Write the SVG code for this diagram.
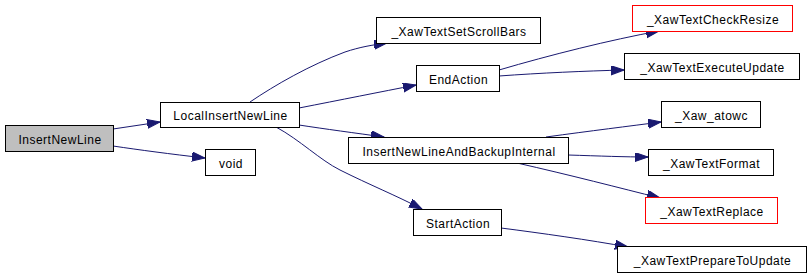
<svg xmlns="http://www.w3.org/2000/svg" width="810" height="274" viewBox="0 0 810 274">
<defs>
<style>
.n rect{fill:#fff;stroke:#000;stroke-width:1}
.n.root rect{fill:#bfbfbf}
.n.red rect{stroke:#ff0000}
.n text{font-family:"Liberation Sans",Arial,sans-serif;font-size:12px;letter-spacing:0.5px;fill:#000;text-anchor:middle}
.e path{fill:none;stroke:#191970;stroke-width:1;marker-end:url(#ah)}
</style>
<marker id="ah" markerUnits="userSpaceOnUse" markerWidth="14" markerHeight="10" refX="13" refY="4.5" orient="auto">
<path d="M0,0 L13,4.5 L0,9 z" fill="#191970" stroke="#191970" stroke-width="1"/>
</marker>
</defs>
<rect width="810" height="274" fill="#fff"/>
<g id="edges" class="e">
<path d="M113,129 L160,122"/>
<path d="M113,146 C140,150 170,154 205,158"/>
<path d="M250,102 C275,85 310,65 345,52 C360,47 372,45 387,43"/>
<path d="M299,108 C340,100 380,92 416,85"/>
<path d="M299,125 C325,129 355,133 384,137"/>
<path d="M276,127 C300,140 320,160 340,170 C370,185 395,195 422,209"/>
<path d="M499,70 C550,55 610,40 659,31"/>
<path d="M499,76 C540,73 585,71 624,70"/>
<path d="M546,137 C590,131 630,126 661,122"/>
<path d="M568,155 C600,156 625,157 648,157"/>
<path d="M517,163 C570,175 620,188 660,198"/>
<path d="M501,228 C540,233 590,240 628,247"/>
</g>
<g id="InsertNewLine" class="n root"><rect x="5.5" y="125.5" width="108" height="26"/><text x="60" y="144">InsertNewLine</text></g>
<g id="LocalInsertNewLine" class="n"><rect x="160.5" y="102.5" width="139" height="25"/><text x="230.5" y="120">LocalInsertNewLine</text></g>
<g id="void" class="n"><rect x="205.5" y="149.5" width="50" height="26"/><text x="231" y="168">void</text></g>
<g id="XawTextSetScrollBars" class="n"><rect x="376.5" y="17.5" width="164" height="26"/><text x="459" y="36">_XawTextSetScrollBars</text></g>
<g id="EndAction" class="n"><rect x="416.5" y="65.5" width="83" height="26"/><text x="458.5" y="84">EndAction</text></g>
<g id="InsertNewLineAndBackupInternal" class="n"><rect x="348.5" y="137.5" width="220" height="26"/><text x="459" y="156">InsertNewLineAndBackupInternal</text></g>
<g id="StartAction" class="n"><rect x="413.5" y="209.5" width="88" height="26"/><text x="458" y="228">StartAction</text></g>
<g id="XawTextCheckResize" class="n red"><rect x="632.5" y="5.5" width="160" height="26"/><text x="713" y="24">_XawTextCheckResize</text></g>
<g id="XawTextExecuteUpdate" class="n"><rect x="624.5" y="53.5" width="175" height="26"/><text x="712.5" y="72">_XawTextExecuteUpdate</text></g>
<g id="Xaw_atowc" class="n"><rect x="661.5" y="101.5" width="99" height="26"/><text x="711.5" y="120">_Xaw_atowc</text></g>
<g id="XawTextFormat" class="n"><rect x="648.5" y="149.5" width="125" height="26"/><text x="711.5" y="168">_XawTextFormat</text></g>
<g id="XawTextReplace" class="n red"><rect x="645.5" y="197.5" width="132" height="26"/><text x="712" y="216">_XawTextReplace</text></g>
<g id="XawTextPrepareToUpdate" class="n"><rect x="617.5" y="246.5" width="189" height="26"/><text x="712.5" y="265">_XawTextPrepareToUpdate</text></g>
</svg>
